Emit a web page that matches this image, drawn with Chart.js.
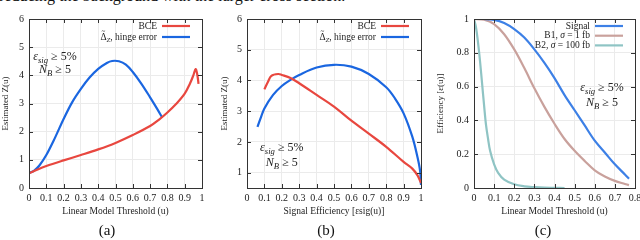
<!DOCTYPE html>
<html><head><meta charset="utf-8">
<script src="https://cdn.jsdelivr.net/npm/chart.js@4/dist/chart.umd.min.js"></script>
<style>
html,body{margin:0;padding:0;background:#fff;}
body{width:640px;height:240px;overflow:hidden;position:relative;font-family:"Liberation Serif",serif;color:#111;}
.box{position:absolute;top:0;height:240px;}
.cap{position:absolute;top:221px;font-size:15px;line-height:18px;width:40px;text-align:center;}
.head{position:absolute;left:-1px;top:-12px;font-size:16px;line-height:16px;white-space:nowrap;color:#111;}
</style>
</head><body>
<div class="head">reducing the background with the larger cross section.</div>
<div class="box" style="left:0;width:215px"><canvas id="ca" width="215" height="240"></canvas></div>
<div class="box" style="left:215px;width:215px"><canvas id="cb" width="215" height="240"></canvas></div>
<div class="box" style="left:430px;width:210px"><canvas id="cc" width="210" height="240"></canvas></div>
<div class="cap" style="left:87px">(a)</div>
<div class="cap" style="left:306px">(b)</div>
<div class="cap" style="left:523px">(c)</div>
<script>
// ---------- data ----------
// (a) Estimated Z vs linear model threshold
const aBlueX = [0, 0.03, 0.06, 0.1, 0.15, 0.2, 0.25, 0.3, 0.35, 0.4, 0.45, 0.48, 0.52, 0.56, 0.6, 0.65, 0.7, 0.74, 0.77];
const aBlueY = [0.53, 0.62, 0.8, 1.17, 1.78, 2.45, 3.05, 3.52, 3.92, 4.23, 4.44, 4.51, 4.5, 4.38, 4.12, 3.7, 3.22, 2.82, 2.5];
const aRedX  = [0, 0.05, 0.1, 0.2, 0.3, 0.4, 0.5, 0.6, 0.7, 0.75, 0.8, 0.85, 0.9, 0.93, 0.95, 0.963, 0.972, 0.98];
const aRedY  = [0.52, 0.66, 0.78, 0.98, 1.17, 1.37, 1.6, 1.88, 2.2, 2.42, 2.68, 2.98, 3.35, 3.7, 4.0, 4.22, 4.05, 3.7];
// (b) Estimated Z vs signal efficiency
const bBlueX = [0.06, 0.08, 0.1, 0.15, 0.2, 0.25, 0.3, 0.4, 0.5, 0.6, 0.7, 0.8, 0.85, 0.9, 0.95, 0.98, 0.995, 1.0];
const bBlueY = [2.49, 2.8, 3.09, 3.53, 3.82, 4.02, 4.18, 4.42, 4.51, 4.45, 4.21, 3.78, 3.42, 2.93, 2.17, 1.5, 1.05, 0.6];
const bRedX  = [0.1, 0.12, 0.14, 0.18, 0.2, 0.25, 0.3, 0.4, 0.5, 0.6, 0.7, 0.8, 0.9, 0.95, 0.98, 1.0];
const bRedY  = [3.71, 3.95, 4.15, 4.21, 4.18, 4.08, 3.91, 3.53, 3.15, 2.69, 2.27, 1.84, 1.35, 1.13, 0.91, 0.66];
// (c) Efficiency vs linear model threshold
const cX       = [0, 0.05, 0.1, 0.15, 0.2, 0.25, 0.3, 0.35, 0.4, 0.45, 0.5, 0.55, 0.6, 0.65, 0.7, 0.75, 0.77];
const cSignalY = [1, 1, 0.995, 0.976, 0.94, 0.89, 0.82, 0.74, 0.65, 0.55, 0.46, 0.37, 0.28, 0.21, 0.14, 0.08, 0.055];
const cB1Y     = [1, 0.996, 0.97, 0.91, 0.82, 0.71, 0.59, 0.48, 0.38, 0.29, 0.22, 0.16, 0.105, 0.068, 0.042, 0.024, 0.017];
const cB2X     = [0, 0.01, 0.02, 0.03, 0.04, 0.05, 0.06, 0.07, 0.08, 0.1, 0.12, 0.15, 0.2, 0.25, 0.3, 0.35, 0.4, 0.45];
const cB2Y     = [1, 0.95, 0.86, 0.75, 0.62, 0.49, 0.37, 0.29, 0.22, 0.14, 0.09, 0.05, 0.022, 0.01, 0.005, 0.002, 0.001, 0];
// ticks
const xTicksA = [0, 0.1, 0.2, 0.3, 0.4, 0.5, 0.6, 0.7, 0.8, 0.9, 1];
const xLabelsA = ['0', '0.1', '0.2', '0.3', '0.4', '0.5', '0.6', '0.7', '0.8', '0.9', '1'];
const yTicksA = [0, 1, 2, 3, 4, 5, 6];
const yLabelsA = ['0', '1', '2', '3', '4', '5', '6'];
const yTicksB = [1, 2, 3, 4, 5, 6];
const yLabelsB = ['1', '2', '3', '4', '5', '6'];
const xTicksC = [0, 0.1, 0.2, 0.3, 0.4, 0.5, 0.6, 0.7, 0.8];
const xLabelsC = ['0', '0.1', '0.2', '0.3', '0.4', '0.5', '0.6', '0.7', '0.8'];
const yTicksC = [0, 0.2, 0.4, 0.6, 0.8, 1];
const yLabelsC = ['0', '0.2', '0.4', '0.6', '0.8', '1'];
// labels
const lblBCE = 'BCE';
const lblHinge = 'Δ̃Z, hinge error';
const lblSignal = 'Signal';
const lblB1 = 'B1, σ = 1 fb';
const lblB2 = 'B2, σ = 100 fb';

// ---------- helpers ----------
const FONT = '"Liberation Serif", "Times New Roman", serif';
const pts = (xs, ys) => xs.map((x, i) => ({x: x, y: ys[i]}));

function richText(ctx, segs, x, y, size, align) {
  const parts = segs.map(s => {
    const fs = s.s ? size * 0.72 : size;
    const font = (s.i ? 'italic ' : '') + fs + 'px ' + FONT;
    ctx.font = font;
    return {t: s.t, acc: s.acc, font: font, w: ctx.measureText(s.t).width, dy: s.s ? size * 0.3 : 0};
  });
  const total = parts.reduce((a, p) => a + p.w, 0);
  let cx = align === 'right' ? x - total : (align === 'left' ? x : x - total / 2);
  ctx.textAlign = 'left';
  ctx.textBaseline = 'middle';
  parts.forEach(p => {
    ctx.font = p.font; ctx.fillText(p.t, cx, y + p.dy);
    if (p.acc) {
      ctx.textAlign = 'center';
      ctx.font = (size * 0.75) + 'px ' + FONT;
      ctx.fillText(p.acc, cx + p.w / 2, y - size * 0.6);
      ctx.textAlign = 'left';
    }
    cx += p.w;
  });
}

const richMap = {
  'BCE': [{t: 'BCE'}],
  'Δ̃Z, hinge error': [{t: 'Δ', acc: '~'}, {t: 'Z', i: 1, s: 1}, {t: ', hinge error'}],
  'Signal': [{t: 'Signal'}],
  'B1, σ = 1 fb': [{t: 'B1, '}, {t: 'σ', i: 1}, {t: ' = 1 fb'}],
  'B2, σ = 100 fb': [{t: 'B2, '}, {t: 'σ', i: 1}, {t: ' = 100 fb'}]
};
const noteEps = [{t: 'ε', i: 1}, {t: 'sig', i: 1, s: 1}, {t: ' ≥ 5%'}];
const noteNB = [{t: 'N', i: 1}, {t: 'B', i: 1, s: 1}, {t: ' ≥ 5'}];

const decor = {
  id: 'decor',
  afterDraw(chart, args, o) {
    const ctx = chart.ctx, ca = chart.chartArea;
    const xs = chart.scales.x, ys = chart.scales.y;
    ctx.save();
    // inward tick marks on all four sides
    ctx.strokeStyle = '#333'; ctx.lineWidth = 1;
    ctx.beginPath();
    xs.ticks.forEach(t => {
      const p = Math.round(xs.getPixelForValue(t.value)) + 0.5;
      ctx.moveTo(p, ca.bottom); ctx.lineTo(p, ca.bottom - 4);
      ctx.moveTo(p, ca.top); ctx.lineTo(p, ca.top + 4);
    });
    ys.ticks.forEach(t => {
      const p = Math.round(ys.getPixelForValue(t.value)) + 0.5;
      ctx.moveTo(ca.left, p); ctx.lineTo(ca.left + 4, p);
      ctx.moveTo(ca.right, p); ctx.lineTo(ca.right - 4, p);
    });
    ctx.stroke();
    ctx.strokeRect(Math.round(ca.left) + 0.5, Math.round(ca.top) + 0.5, Math.round(ca.right - ca.left), Math.round(ca.bottom - ca.top));
    // legend
    ctx.fillStyle = '#222';
    chart.data.datasets.forEach((ds, i) => {
      const y = ca.top + 7 + i * o.rowH;
      richText(ctx, richMap[ds.label] || [{t: ds.label}], ca.right - 45, y, o.legendSize, 'right');
      ctx.strokeStyle = ds.borderColor; ctx.lineWidth = 2.2;
      ctx.beginPath(); ctx.moveTo(ca.right - 40, y); ctx.lineTo(ca.right - 12, y); ctx.stroke();
    });
    // annotation
    ctx.fillStyle = '#222';
    const nx = xs.getPixelForValue(o.noteX);
    richText(ctx, noteEps, nx, ys.getPixelForValue(o.noteY1), 12, 'center');
    richText(ctx, noteNB, nx, ys.getPixelForValue(o.noteY2), 12, 'center');
    ctx.restore();
  }
};

function makeChart(id, cfg) {
  const tickFont = {family: FONT, size: 10};
  const titleFont = {family: FONT, size: 9.5};
  return new Chart(document.getElementById(id), {
    type: 'line',
    data: {datasets: cfg.datasets.map(d => ({
      label: d.label, data: d.data, borderColor: d.color, borderWidth: 2.2,
      pointRadius: 0, fill: false, tension: 0.35
    }))},
    options: {
      responsive: false, animation: false, devicePixelRatio: 1,
      layout: {padding: {left: 0, right: cfg.padRight, top: 19, bottom: 20}},
      plugins: {legend: {display: false}, tooltip: {enabled: false},
        decor: {rowH: cfg.rowH, legendSize: 9.5, noteX: cfg.noteX, noteY1: cfg.noteY1, noteY2: cfg.noteY2}},
      scales: {
        x: {
          type: 'linear', min: cfg.xMin, max: cfg.xMax,
          afterBuildTicks: s => { s.ticks = cfg.xTicks.map(v => ({value: v})); },
          afterFit: s => { s.height = 32; s.paddingLeft = 0; s.paddingRight = 0; },
          ticks: {font: tickFont, color: '#222', padding: 4, maxRotation: 0, autoSkip: false,
            callback: (v, i) => cfg.xLabels[i]},
          grid: {color: '#ebebeb', drawTicks: false},
          border: {display: false},
          title: {display: true, text: cfg.xTitle, font: titleFont, color: '#222', padding: {top: 0, bottom: 3.3}}
        },
        y: {
          min: cfg.yMin, max: cfg.yMax,
          afterBuildTicks: s => { s.ticks = cfg.yTicks.map(v => ({value: v})); },
          afterFit: s => { s.width = cfg.yWidth; },
          ticks: {font: tickFont, color: '#222', padding: 5, autoSkip: false,
            callback: (v, i) => cfg.yLabels[i]},
          grid: {color: '#ebebeb', drawTicks: false},
          border: {display: false},
          title: {display: true, text: cfg.yTitle, font: {family: FONT, size: 9}, color: '#222', padding: {top: cfg.yTitlePad, bottom: 0}}
        }
      }
    },
    plugins: [decor]
  });
}

makeChart('ca', {
  datasets: [
    {label: lblBCE, data: pts(aRedX, aRedY), color: '#e8473f'},
    {label: lblHinge, data: pts(aBlueX, aBlueY), color: '#1a66e0'}
  ],
  xMin: 0, xMax: 1, xTicks: xTicksA, xLabels: xLabelsA,
  yMin: 0, yMax: 6, yTicks: yTicksA, yLabels: yLabelsA,
  xTitle: 'Linear Model Threshold (u)', yTitle: 'Estimated Z(u)',
  padRight: 13, yWidth: 29, yTitlePad: 0, rowH: 11,
  noteX: 0.15, noteY1: 4.65, noteY2: 4.19
});
makeChart('cb', {
  datasets: [
    {label: lblBCE, data: pts(bRedX, bRedY), color: '#e8473f'},
    {label: lblHinge, data: pts(bBlueX, bBlueY), color: '#1a66e0'}
  ],
  xMin: 0, xMax: 1, xTicks: xTicksA, xLabels: xLabelsA,
  yMin: 0.5, yMax: 6, yTicks: yTicksB, yLabels: yLabelsB,
  xTitle: 'Signal Efficiency [εsig(u)]', yTitle: 'Estimated Z(u)',
  padRight: 9, yWidth: 32, yTitlePad: 4, rowH: 11,
  noteX: 0.2, noteY1: 1.80, noteY2: 1.31
});
makeChart('cc', {
  datasets: [
    {label: lblSignal, data: pts(cX, cSignalY), color: '#3d80e6'},
    {label: lblB1, data: pts(cX, cB1Y), color: '#c9a19c'},
    {label: lblB2, data: pts(cB2X, cB2Y), color: '#8fc4c4'}
  ],
  xMin: 0, xMax: 0.8, xTicks: xTicksC, xLabels: xLabelsC,
  yMin: 0, yMax: 1, yTicks: yTicksC, yLabels: yLabelsC,
  xTitle: 'Linear Model Threshold (u)', yTitle: 'Efficiency [ε(u)]',
  padRight: 5, yWidth: 44, yTitlePad: 5.5, rowH: 9.7,
  noteX: 0.636, noteY1: 0.592, noteY2: 0.503
});
</script>
</body></html>
